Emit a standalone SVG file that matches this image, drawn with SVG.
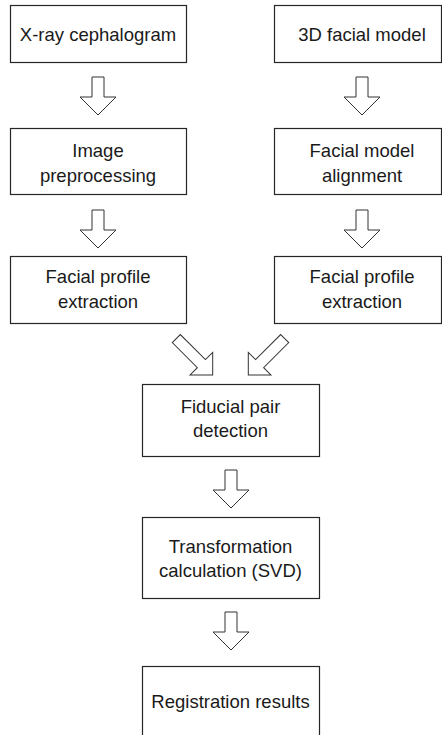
<svg xmlns="http://www.w3.org/2000/svg" width="442" height="735" viewBox="0 0 442 735">
  <style>
    .box rect { fill: #ffffff; stroke: #262626; stroke-width: 1.2; }
    .box text { font-family: "Liberation Sans", Arial, Helvetica, sans-serif; font-size: 18.5px; fill: #1a1a1a; text-anchor: middle; }
    .arrow { fill: #ffffff; stroke: #333333; stroke-width: 1; stroke-linejoin: miter; }
  </style>
  <defs>
    <path id="varrow" d="M -6,-38 L 6,-38 L 6,-18 L 18,-18 L 0,0 L -18,-18 L -6,-18 Z"/>
    <path id="darrow" d="M -5.7,-51.5 L 5.7,-51.5 L 5.7,-16 L 16,-16 L 0,0 L -16,-16 L -5.7,-16 Z"/>
  </defs>
  <rect x="0" y="0" width="442" height="735" fill="#ffffff"/>

  <g id="connectors">
    <use href="#varrow" class="arrow" transform="translate(98,115)"/>
    <use href="#varrow" class="arrow" transform="translate(362,115)"/>
    <use href="#varrow" class="arrow" transform="translate(98,248)"/>
    <use href="#varrow" class="arrow" transform="translate(362,248)"/>
    <use href="#darrow" class="arrow" transform="translate(212.7,375) rotate(-45)"/>
    <use href="#darrow" class="arrow" transform="translate(248.3,375) rotate(45)"/>
    <use href="#varrow" class="arrow" transform="translate(231,508)"/>
    <use href="#varrow" class="arrow" transform="translate(231,650)"/>
  </g>

  <g id="xray" class="box">
    <rect x="10.5" y="5.5" width="176" height="57"/>
    <text x="98" y="41">X-ray cephalogram</text>
  </g>
  <g id="model3d" class="box">
    <rect x="274.5" y="5.5" width="167" height="57"/>
    <text x="362" y="41">3D facial model</text>
  </g>
  <g id="preproc" class="box">
    <rect x="10.5" y="128.5" width="176" height="66"/>
    <text x="98" y="157">Image</text>
    <text x="98" y="181.5">preprocessing</text>
  </g>
  <g id="align" class="box">
    <rect x="274.5" y="128.5" width="167" height="66"/>
    <text x="362" y="157">Facial model</text>
    <text x="362" y="181.5">alignment</text>
  </g>
  <g id="profile-left" class="box">
    <rect x="10.5" y="256.5" width="176" height="67"/>
    <text x="98" y="283">Facial profile</text>
    <text x="98" y="308">extraction</text>
  </g>
  <g id="profile-right" class="box">
    <rect x="274.5" y="256.5" width="167" height="67"/>
    <text x="362" y="283">Facial profile</text>
    <text x="362" y="308">extraction</text>
  </g>
  <g id="fiducial" class="box">
    <rect x="142.5" y="384.5" width="177" height="72"/>
    <text x="230.5" y="413">Fiducial pair</text>
    <text x="230.5" y="437">detection</text>
  </g>
  <g id="transform" class="box">
    <rect x="142.5" y="517.5" width="177" height="81"/>
    <text x="230.5" y="553">Transformation</text>
    <text x="230.5" y="577">calculation (SVD)</text>
  </g>
  <g id="results" class="box">
    <rect x="142.5" y="666.5" width="177" height="90"/>
    <text x="230.5" y="708">Registration results</text>
  </g>
</svg>
